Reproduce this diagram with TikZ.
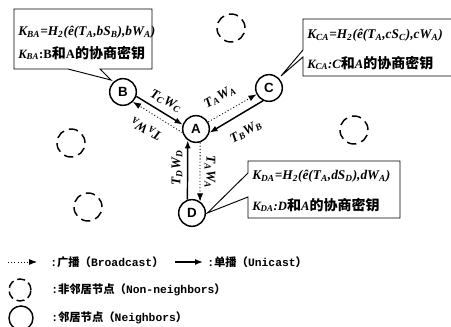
\documentclass[tikz,border=0pt]{standalone}
\usepackage{fontspec}
\setmainfont{Liberation Serif}
\newfontfamily\cjk{Noto Sans CJK SC}
\newfontfamily\mono{Liberation Mono}
\newfontfamily\sansf{Liberation Sans}
\usetikzlibrary{arrows.meta}
\newcommand\sbs[1]{\textsubscript{#1}}
\newcommand\cj[1]{{\cjk\fontsize{10.5}{12}\selectfont #1}}
\newcommand\legtext[2]{{\mono\bfseries :}{\cjk\bfseries #1（}{\mono\bfseries #2}{\cjk\bfseries ）}}
\tikzset{
  nb/.style={circle, draw, line width=1.1pt, minimum size=20pt, inner sep=0pt, fill=white,
    font=\sansf\bfseries\fontsize{10}{12}\selectfont},
  nn/.style={circle, draw, line width=1.1pt, minimum size=21pt, inner sep=0pt,
    dash pattern=on 7pt off 4pt},
  boxline/.style={draw, line width=0.7pt, fill=white},
  txt/.style={anchor=west, inner sep=0pt, font=\bfseries\fontsize{10}{12}\selectfont},
  txtb/.style={anchor=west, inner sep=0pt, font=\bfseries\fontsize{9.5}{12}\selectfont},
  lbl/.style={inner sep=0pt, font=\bfseries\itshape\fontsize{10}{12}\selectfont},
  ucast/.style={line width=1.1pt, -{Latex[length=6pt,width=4.5pt]}},
  bcast/.style={line width=0.6pt, dash pattern=on 0.8pt off 1.6pt, -{Latex[length=6pt,width=4.5pt]}},
  legt/.style={anchor=west, inner sep=0pt, font=\fontsize{8.5}{10}\selectfont}
}
\begin{document}
\begin{tikzpicture}[x=0.75pt,y=-0.75pt]
\useasboundingbox (0,0) rectangle (451,327);

% neighbour nodes
\node[nb] (A) at (196,129) {A};
\node[nb] (B) at (123,92) {B};
\node[nb] (C) at (269,88) {C};
\node[nb] (D) at (192,213) {D};

% non-neighbour nodes
\node[nn] (n1) at (231,28) {};
\node[nn] (n2) at (71,143) {};
\node[nn] (n3) at (88,207) {};
\node[nn] (n4) at (354,130) {};

% callout boxes
\draw[boxline] (68,69) -- (14,69) -- (14,9) -- (152,9) -- (152,69) -- (100,69) -- ([shift={(-2,-2)}]B.135) -- cycle;
\draw[boxline] (451,19) -- (303,19) -- (303,50) -- ([shift={(2,-2)}]C.45) -- (303,57) -- (303,76) -- (451,76);
\draw[boxline] (248,173) -- (248,161) -- (400,161) -- (400,218) -- (248,218) -- (248,197) -- ([xshift=1pt]D.east) -- cycle;

\node[txt] (b1) at (18,32) {\itshape K\sbs{BA}=H\sbs{2}(ê(T\sbs{A},bS\sbs{B}),bW\sbs{A})};
\node[txtb] (b2) at (18,53) {{\itshape K\sbs{BA}}:B\cj{和}A\cj{的协商密钥}};
\node[txt] (c1) at (307,35) {\itshape K\sbs{CA}=H\sbs{2}(ê(T\sbs{A},cS\sbs{C}),cW\sbs{A})};
\node[txtb] (c2) at (307,63) {{\itshape K\sbs{CA}:C}\cj{和}{\itshape A}\cj{的协商密钥}};
\node[txt] (d1) at (252,176) {\itshape K\sbs{DA}=H\sbs{2}(ê(T\sbs{A},dS\sbs{D}),dW\sbs{A})};
\node[txtb] (d2) at (252,205) {{\itshape K\sbs{DA}:D}\cj{和}{\itshape A}\cj{的协商密钥}};

% connectors
\draw[ucast] (B.-18) -- (A.162);
\draw[bcast] (A.195) -- (B.-45);
\draw[bcast] (A.30) -- (C.207);
\draw[ucast] (C.245) -- (A.-15);
\draw[ucast] (D.109) -- (A.234);
\draw[bcast] (A.287) -- (D.55);

% connector labels
\node[lbl, rotate=-27] (l1) at (166,101) {T\sbs{C}W\sbs{C}};
\node[lbl, rotate=153] (l2) at (146,129) {T\sbs{A}W\sbs{A}};
\node[lbl, rotate=29] (l3) at (220,97) {T\sbs{A}W\sbs{A}};
\node[lbl, rotate=29] (l4) at (246,132) {T\sbs{B}W\sbs{B}};
\node[lbl, rotate=90] (l5) at (177,168) {T\sbs{D}W\sbs{D}};
\node[lbl, rotate=-90] (l6) at (210,172) {T\sbs{A}W\sbs{A}};

% legend
\coordinate (g1) at (8,262); \coordinate (g2) at (37,262);
\draw[bcast] (g1) -- (g2);
\node[legt] (gt1) at (50,262) {\legtext{广播}{Broadcast}};
\coordinate (g3) at (175,262); \coordinate (g4) at (203,262);
\draw[ucast] (g3) -- (g4);
\node[legt] (gt2) at (207,262) {\legtext{单播}{Unicast}};
\node[nn, minimum size=16.5pt, dash pattern=on 6pt off 3pt] (gc1) at (20,290) {};
\node[legt] (gt3) at (51,290) {\legtext{非邻居节点}{Non-neighbors}};
\node[nb, minimum size=18pt] (gc2) at (21,318) {};
\node[legt] (gt4) at (51,318) {\legtext{邻居节点}{Neighbors}};
\end{tikzpicture}
\end{document}
